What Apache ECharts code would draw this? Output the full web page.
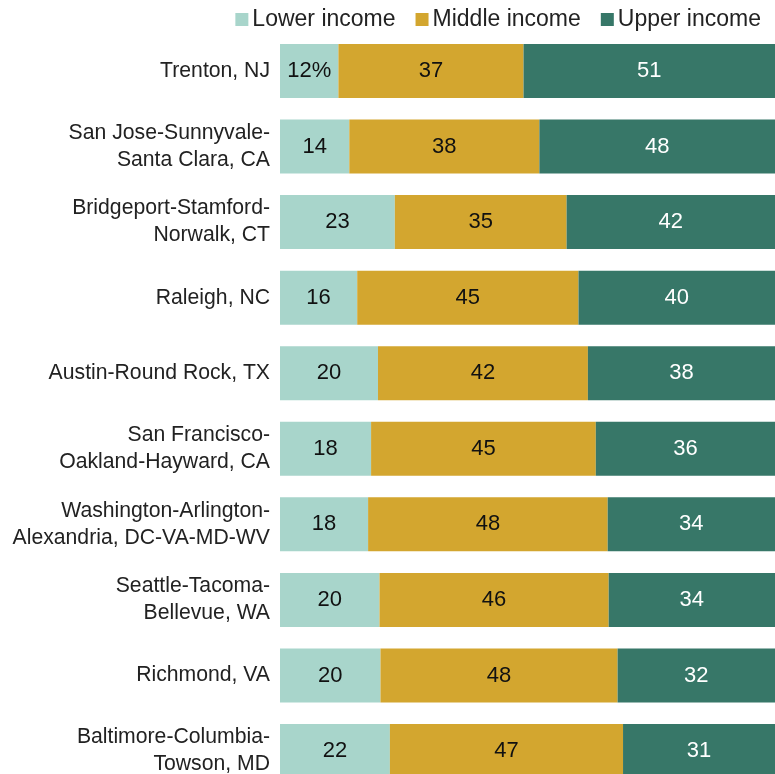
<!DOCTYPE html>
<html><head><meta charset="utf-8">
<script src="https://cdn.jsdelivr.net/npm/echarts@6/dist/echarts.min.js"></script>
<style>html,body{margin:0;padding:0;background:#fff;}#c{width:775px;height:774px;}</style>
</head><body><div id="c"></div>
<script>
const categories = [
  "Trenton, NJ",
  "San Jose-Sunnyvale-\nSanta Clara, CA",
  "Bridgeport-Stamford-\nNorwalk, CT",
  "Raleigh, NC",
  "Austin-Round Rock, TX",
  "San Francisco-\nOakland-Hayward, CA",
  "Washington-Arlington-\nAlexandria, DC-VA-MD-WV",
  "Seattle-Tacoma-\nBellevue, WA",
  "Richmond, VA",
  "Baltimore-Columbia-\nTowson, MD"
];
const lowerIncome  = [11.8, 14.0, 23.2, 15.6, 19.8, 18.4, 17.8, 20.1, 20.3, 22.2];
const middleIncome = [37.4, 38.4, 34.7, 44.7, 42.4, 45.4, 48.4, 46.3, 47.9, 47.1];
const upperIncome  = [50.8, 47.6, 42.1, 39.7, 37.8, 36.2, 33.8, 33.6, 31.8, 30.7];
const lowerLabels  = ["12%", "14", "23", "16", "20", "18", "18", "20", "20", "22"];
const middleLabels = ["37", "38", "35", "45", "42", "45", "48", "46", "48", "47"];
const upperLabels  = ["51", "48", "42", "40", "38", "36", "34", "34", "32", "31"];

const FONT = "Liberation Sans, Arial, sans-serif";
const chart = echarts.init(document.getElementById('c'), null, {renderer: 'canvas'});
function mk(name, data, labels, color, textColor) {
  return {
    name: name, type: 'bar', stack: 'total', data: data, barWidth: 54,
    itemStyle: {color: color},
    emphasis: {disabled: true},
    label: {show: true, position: 'inside', fontFamily: FONT, fontSize: 22, color: textColor,
      formatter: p => labels[p.dataIndex]}
  };
}
chart.setOption({
  animation: false,
  legend: {
    right: 9, top: 3, itemWidth: 13, itemHeight: 13, itemGap: 20, icon: 'rect',
    textStyle: {fontFamily: FONT, fontSize: 23, color: '#222', padding: [0, 0, 0, -1]},
    data: ['Lower income', 'Middle income', 'Upper income']
  },
  grid: {left: 280, right: 0, top: 33.2, height: 755.6, containLabel: false, outerBoundsMode: 'none'},
  xAxis: {type: 'value', min: 0, max: 100, show: false},
  yAxis: {
    type: 'category', data: categories, inverse: true,
    axisLine: {show: false}, axisTick: {show: false},
    axisLabel: {fontFamily: FONT, fontSize: 21.2, color: '#222', margin: 10, lineHeight: 27, align: 'right', padding: [3, 0, 0, 0]}
  },
  series: [
    mk('Lower income', lowerIncome, lowerLabels, '#a8d5cb', '#111'),
    mk('Middle income', middleIncome, middleLabels, '#d3a62f', '#111'),
    mk('Upper income', upperIncome, upperLabels, '#377768', '#fff')
  ]
});
</script></body></html>
